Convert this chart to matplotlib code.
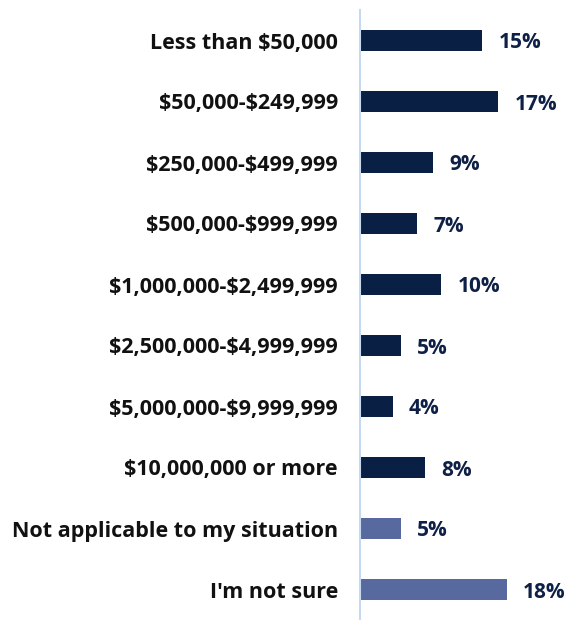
import matplotlib.pyplot as plt

plt.rcParams['font.family'] = ['Open Sans', 'DejaVu Sans']
plt.rcParams['text.parse_math'] = False

categories = ['Less than $50,000', '$50,000-$249,999', '$250,000-$499,999',
              '$500,000-$999,999', '$1,000,000-$2,499,999', '$2,500,000-$4,999,999',
              '$5,000,000-$9,999,999', '$10,000,000 or more',
              'Not applicable to my situation', "I'm not sure"]
values = [15, 17, 9, 7, 10, 5, 4, 8, 5, 18]

dark = '#0a1f44'
light = '#5869a0'
colors = [dark] * 8 + [light] * 2

fig = plt.figure(figsize=(5.7, 6.2), dpi=100)
ax = fig.add_axes([360 / 570, 0, 210 / 570, 610 / 620])

y = range(len(categories))
ax.barh(y, values, height=0.36, color=colors)
for i, v in zip(y, values):
    ax.text(v + 2.0, i, f'{v}%', va='center_baseline', ha='left', fontsize=15,
            fontweight='bold', color='#0e2046')

ax.set_xlim(0, 25.8)
ax.set_ylim(len(categories) - 0.5, -0.5)
ax.set_yticks(list(y))
ax.set_yticklabels(categories, fontsize=15.5, fontweight='bold', color='#111111')
ax.tick_params(axis='y', length=0, pad=16)
ax.set_xticks([])
for s in ['top', 'right', 'bottom']:
    ax.spines[s].set_visible(False)
ax.spines['left'].set_color('#c5d9f1')
ax.spines['left'].set_linewidth(1.5)

fig.savefig('out.png', dpi=100)
